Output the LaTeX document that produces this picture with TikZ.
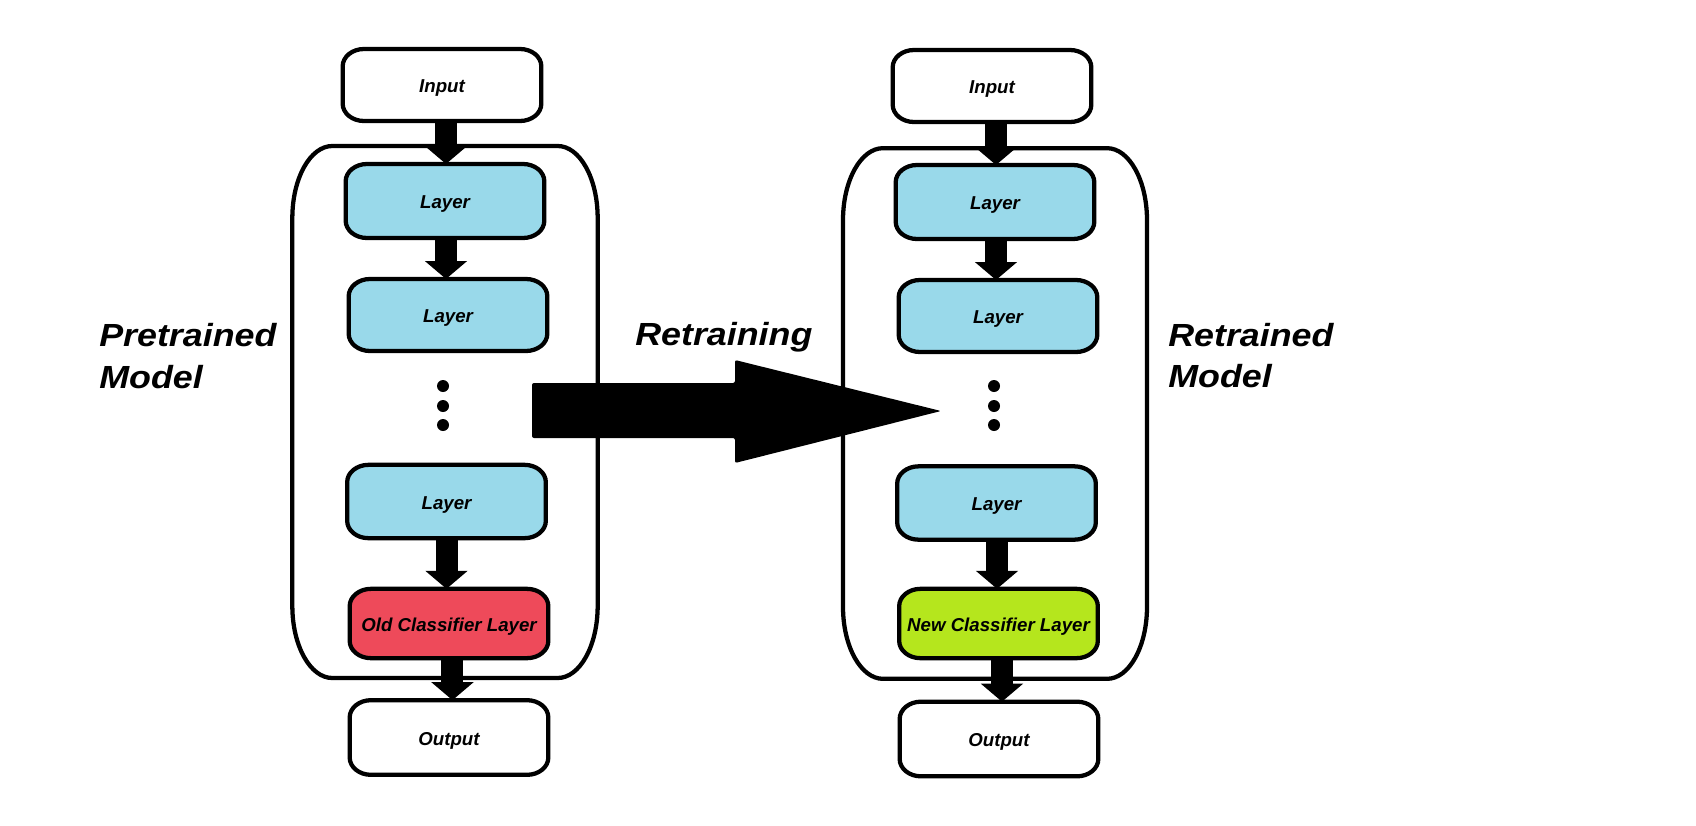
\documentclass[tikz,border=0pt]{standalone}
\usepackage{fontspec}
\setmainfont{Liberation Sans}
\usepackage{graphicx}
\usetikzlibrary{arrows.meta}
\definecolor{layerblue}{RGB}{153,217,234}
\definecolor{oldred}{RGB}{238,74,90}
\definecolor{newgreen}{RGB}{181,230,29}
\newcommand\rbox[4]{\draw[outline,fill=#4] ([xshift=#2]#1.north west) -- ([xshift=-#2]#1.north east)
  arc[start angle=90,end angle=0,x radius=#2,y radius=#3] -- ([yshift=#3]#1.south east)
  arc[start angle=0,end angle=-90,x radius=#2,y radius=#3] -- ([xshift=#2]#1.south west)
  arc[start angle=270,end angle=180,x radius=#2,y radius=#3] -- ([yshift=-#3]#1.north west)
  arc[start angle=180,end angle=90,x radius=#2,y radius=#3] -- cycle;}
\tikzset{
  outline/.style={draw=black,line width=3.2pt},
  blk/.style={shape=rectangle,inner sep=0pt,outer sep=0pt,minimum width=149pt,
    font=\fontsize{14}{16}\selectfont\bfseries\itshape},
  lbl/.style={blk,yshift=-2.5pt},
  cont/.style={shape=rectangle,inner sep=0pt,outer sep=0pt,minimum width=229pt,minimum height=399pt},
  flow/.style={line width=16.5pt,-{Triangle[width=31pt,length=13.5pt]}},
  dotn/.style={circle,fill=black,inner sep=0pt,minimum size=9pt},
  big/.style={inner sep=0pt,anchor=base west,font=\fontsize{24}{30}\selectfont\bfseries\itshape}
}
\begin{document}
\begin{tikzpicture}[x=0.75pt,y=-0.75pt]
\useasboundingbox (0,0) rectangle (1696,825);
% ---------- left model ----------
\node[cont] (c1) at (445,412) {};
\rbox{c1}{30pt}{54pt}{white}
\node[blk,minimum height=54pt] (in1) at (442,85) {};
\node[blk,minimum height=55.5pt] (l1a) at (445,201) {};
\node[blk,minimum height=54pt] (l2a) at (448,315) {};
\node[blk,minimum height=55pt] (l3a) at (446.5,501.5) {};
\node[blk,minimum height=52pt] (old) at (449,623.5) {};
\node[blk,minimum height=56pt] (out1) at (449,737.5) {};
\rbox{in1}{16pt}{13pt}{white}
\rbox{l1a}{16pt}{13pt}{layerblue}
\rbox{l2a}{16pt}{13pt}{layerblue}
\rbox{l3a}{16pt}{13pt}{layerblue}
\rbox{old}{16pt}{13pt}{oldred}
\rbox{out1}{16pt}{13pt}{white}
\node[lbl] at (in1) {Input};
\node[lbl] at (l1a) {Layer};
\node[lbl] at (l2a) {Layer};
\node[lbl] at (l3a) {Layer};
\node[lbl] at (old) {Old Classifier Layer};
\node[lbl] at (out1) {Output};
\draw[flow] ([xshift=3pt]in1.south) -- ([xshift=3pt]in1.south |- l1a.north);
\draw[flow] ([xshift=0.75pt]l1a.south) -- ([xshift=0.75pt]l1a.south |- l2a.north);
\draw[flow] ([xshift=0pt]l3a.south) -- ([xshift=0pt]l3a.south |- old.north);
\draw[flow] ([xshift=2.6pt]old.south) -- ([xshift=2.6pt]old.south |- out1.north);
\node[dotn] (d1) at (443,386) {};
\node[dotn] (d2) at (443,406) {};
\node[dotn] (d3) at (443,425) {};
% ---------- right model ----------
\node[cont,minimum width=228pt,minimum height=398pt] (c2) at (995,413.5) {};
\rbox{c2}{30pt}{54pt}{white}
\node[blk,minimum height=54pt] (in2) at (992,86) {};
\node[blk,minimum height=55.5pt] (l1b) at (995,202) {};
\node[blk,minimum height=54pt] (l2b) at (998,316) {};
\node[blk,minimum height=55pt] (l3b) at (996.5,503) {};
\node[blk,minimum height=52pt] (new) at (998.5,623.5) {};
\node[blk,minimum height=56pt] (out2) at (999,739) {};
\rbox{in2}{16pt}{13pt}{white}
\rbox{l1b}{16pt}{13pt}{layerblue}
\rbox{l2b}{16pt}{13pt}{layerblue}
\rbox{l3b}{16pt}{13pt}{layerblue}
\rbox{new}{16pt}{13pt}{newgreen}
\rbox{out2}{16pt}{13pt}{white}
\node[lbl] at (in2) {Input};
\node[lbl] at (l1b) {Layer};
\node[lbl] at (l2b) {Layer};
\node[lbl] at (l3b) {Layer};
\node[lbl] at (new) {New Classifier Layer};
\node[lbl] at (out2) {Output};
\draw[flow] ([xshift=3pt]in2.south) -- ([xshift=3pt]in2.south |- l1b.north);
\draw[flow] ([xshift=0.75pt]l1b.south) -- ([xshift=0.75pt]l1b.south |- l2b.north);
\draw[flow] ([xshift=0.4pt]l3b.south) -- ([xshift=0.4pt]l3b.south |- new.north);
\draw[flow] ([xshift=2.6pt]new.south) -- ([xshift=2.6pt]new.south |- out2.north);
\node[dotn] (e1) at (994,386) {};
\node[dotn] (e2) at (994,406) {};
\node[dotn] (e3) at (994,425) {};
% ---------- big arrow ----------
\fill[black,rounded corners=1.5pt] (532,383) -- (735,383) -- (735,360) -- (941,411)
  -- (735,463) -- (735,438) -- (532,438) -- cycle;
% ---------- labels ----------
\node[big] (pre1) at (99,346) {\scalebox{1.12}[1]{Pretrained}};
\node[big] (pre2) at (99,388) {\scalebox{1.12}[1]{Model}};
\node[big] (ret) at (635,345) {\scalebox{1.12}[1]{Retraining}};
\node[big] (rtd1) at (1168,346) {\scalebox{1.12}[1]{Retrained}};
\node[big] (rtd2) at (1168,387) {\scalebox{1.12}[1]{Model}};
\end{tikzpicture}
\end{document}
